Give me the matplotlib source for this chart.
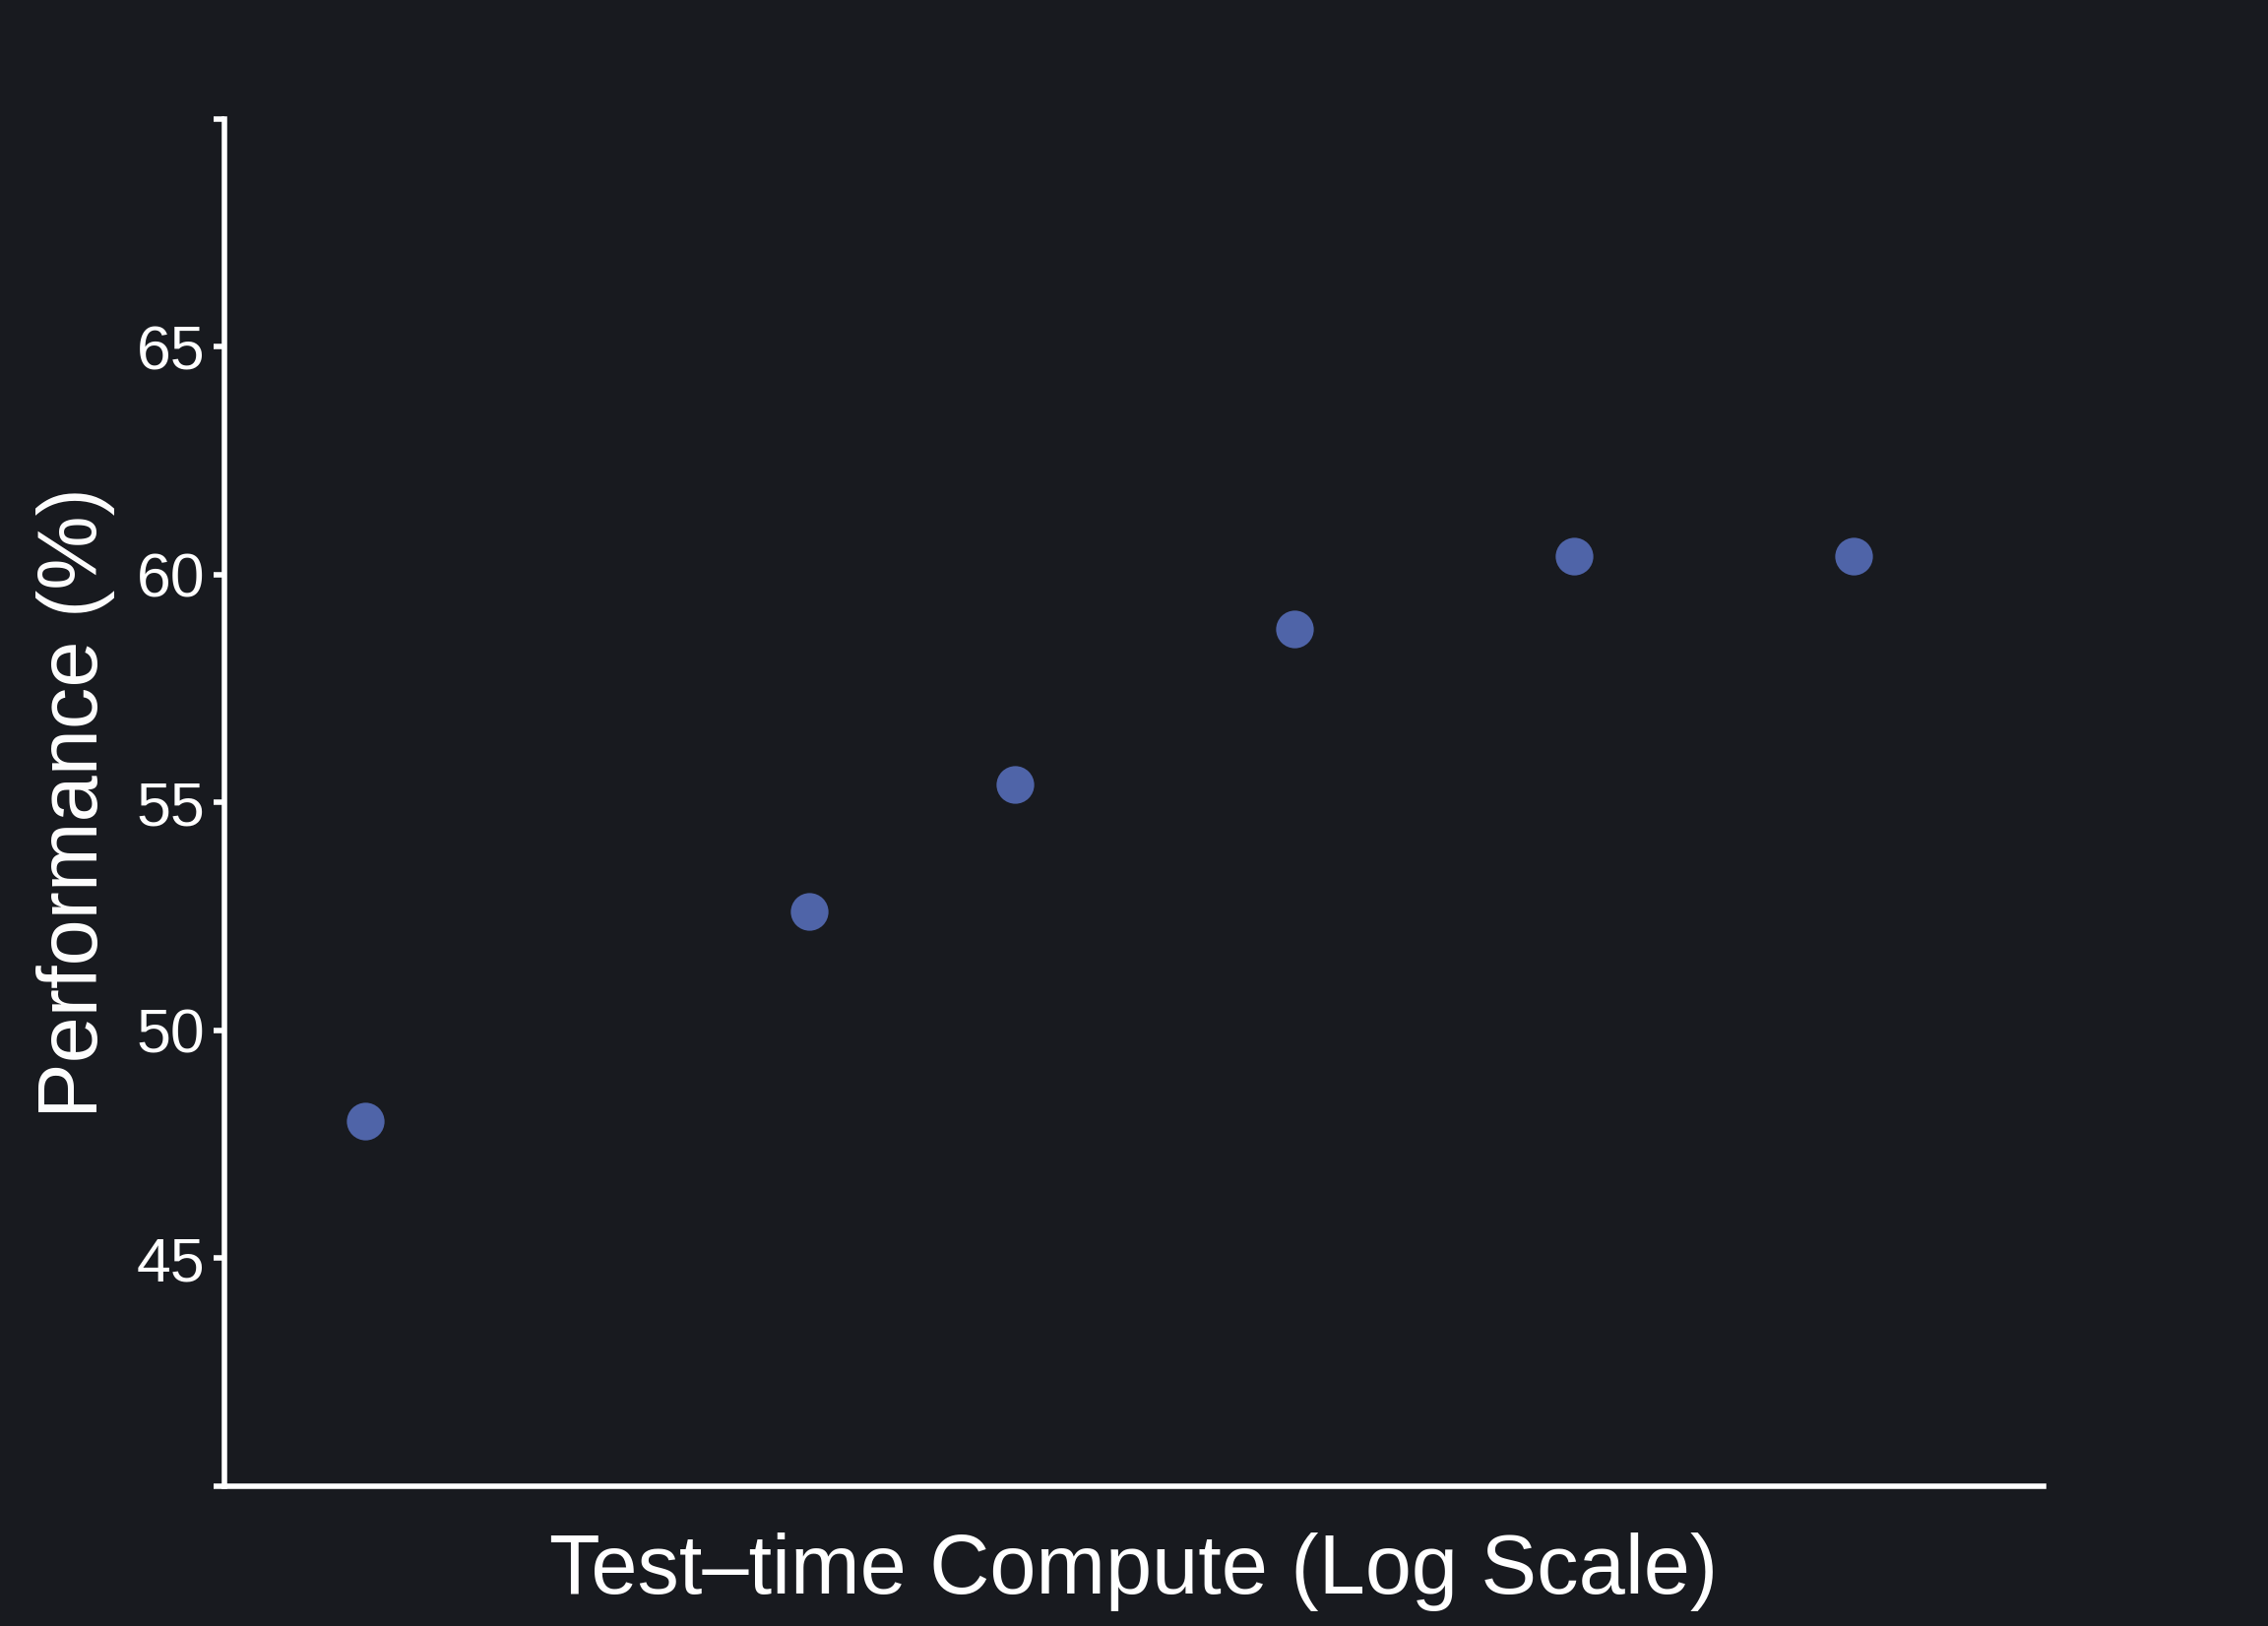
import numpy as np
import matplotlib
matplotlib.use("Agg")
import matplotlib.pyplot as plt

# test-time compute (log scale) vs performance
compute = [1, 3, 5, 10, 20, 40]
performance = [48.0, 52.6, 55.4, 58.8, 60.4, 60.4]
ytick_vals = [40, 45, 50, 55, 60, 65, 70]
ytick_labels = ["", "45", "50", "55", "60", "65", ""]

bg = "#181a1f"
fg = "white"
plt.rcParams['font.family'] = ['Liberation Sans', 'DejaVu Sans']

fig, ax = plt.subplots(figsize=(11.52, 8.26), dpi=200)
fig.patch.set_facecolor(bg)
ax.set_facecolor(bg)

ax.scatter(compute, performance, s=190, color="#4f64a8", zorder=3, linewidths=0)

ax.set_xscale("log")
ax.set_xlim(0.705, 64.0)
ax.set_ylim(40, 70)
ax.set_xticks([])
ax.xaxis.set_minor_locator(matplotlib.ticker.NullLocator())
ax.set_yticks(ytick_vals)
ax.set_yticklabels(ytick_labels)

for s in ["top", "right"]:
    ax.spines[s].set_visible(False)
for s in ["left", "bottom"]:
    ax.spines[s].set_color(fg)
    ax.spines[s].set_linewidth(2.0)
ax.tick_params(axis="y", colors=fg, labelsize=22.5, length=4, width=2.0, pad=3)

ax.set_xlabel("Test–time Compute (Log Scale)", color=fg, fontsize=30.5, labelpad=17)
ax.set_ylabel("Performance (%)", color=fg, fontsize=30.5, labelpad=8)

plt.subplots_adjust(left=0.099, right=0.901, top=0.927, bottom=0.086)
plt.savefig("out.png", dpi=200, facecolor=bg)
